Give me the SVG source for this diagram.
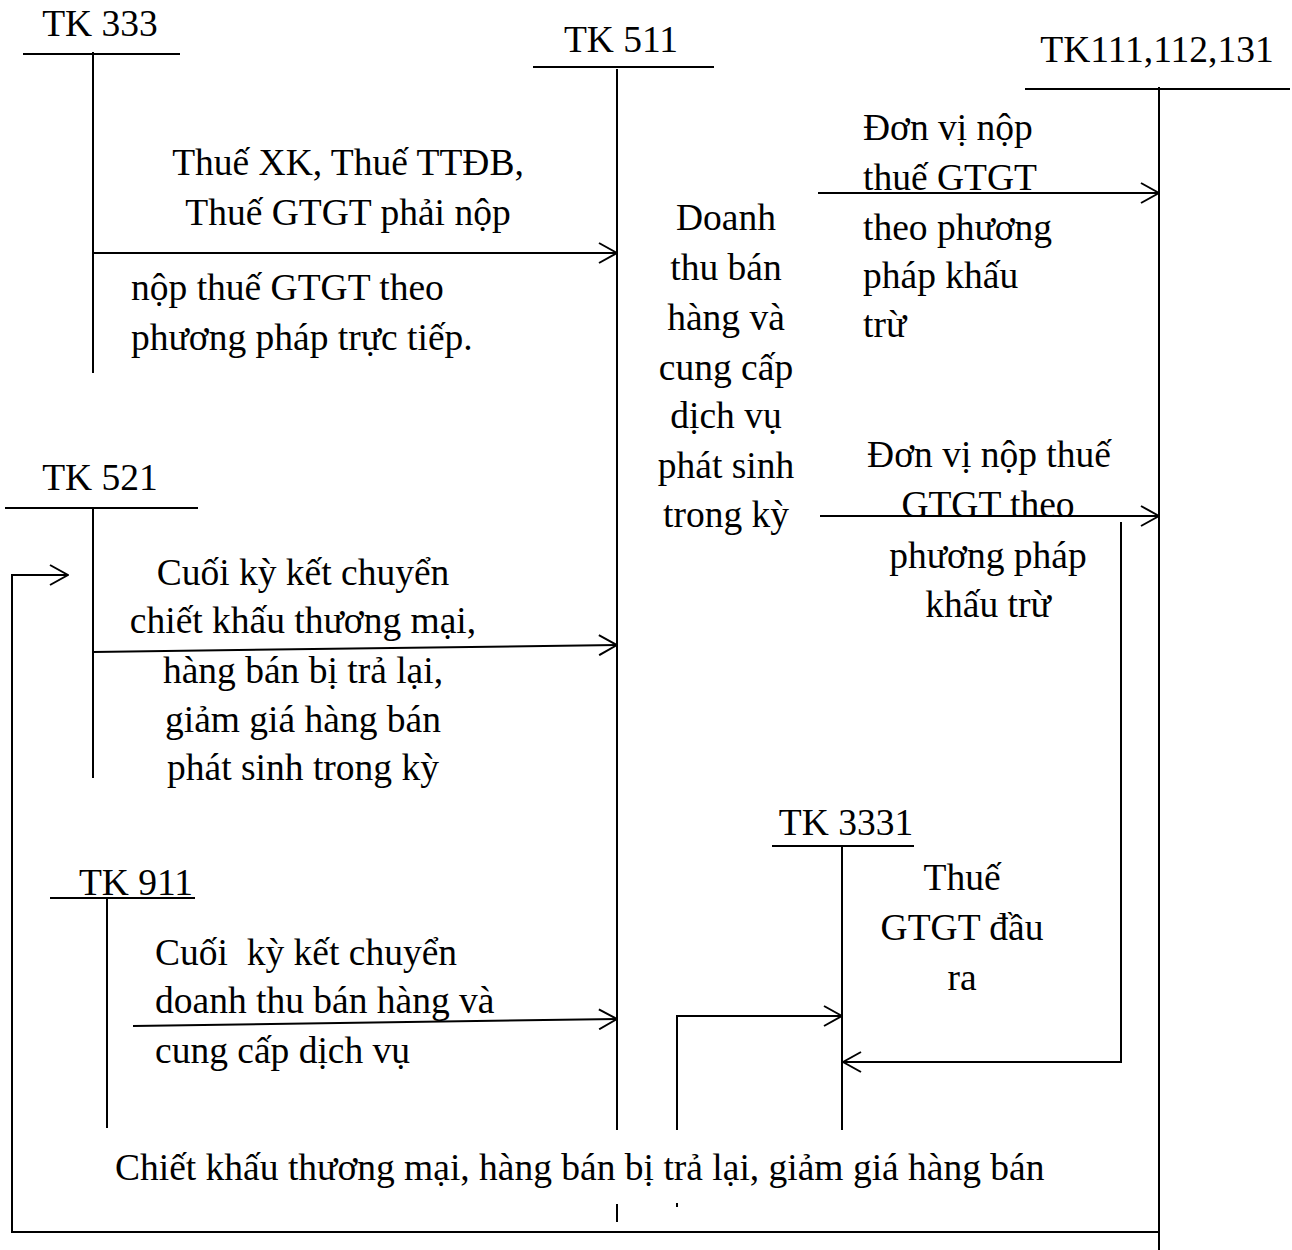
<svg xmlns="http://www.w3.org/2000/svg" width="1292" height="1250" viewBox="0 0 1292 1250">
<defs>
<marker id="ah" viewBox="0 0 20 22" refX="19" refY="11" markerWidth="20" markerHeight="22" markerUnits="userSpaceOnUse" orient="auto">
<path d="M1,1 L19,11 L1,21" fill="none" stroke="#000" stroke-width="2"/>
</marker>
</defs>
<style>
text{font-family:"Liberation Serif","Times New Roman",serif;font-size:37.5px;fill:#000}
.c{text-anchor:middle}
line,polyline{stroke:#000;stroke-width:2;fill:none}
</style>
<rect width="1292" height="1250" fill="#fff"/>
<g id="tk333">
<text class="c" x="100" y="36">TK 333</text>
<line x1="23" y1="54" x2="180" y2="54"/>
<line x1="93" y1="52" x2="93" y2="373"/>
</g>
<g id="tk511">
<text class="c" x="621" y="52">TK 511</text>
<line x1="533" y1="67" x2="714" y2="67"/>
<line x1="617" y1="69" x2="617" y2="1130"/>
<line x1="617" y1="1204" x2="617" y2="1222"/>
</g>
<g id="tk111">
<text class="c" x="1157" y="62">TK111,112,131</text>
<line x1="1025" y1="89" x2="1290" y2="89"/>
<line x1="1159" y1="87" x2="1159" y2="1250"/>
</g>
<g id="tk521">
<text class="c" x="100" y="490">TK 521</text>
<line x1="5" y1="508" x2="198" y2="508"/>
<line x1="93" y1="508" x2="93" y2="778"/>
</g>
<g id="tk911">
<text class="c" x="136" y="895">TK 911</text>
<line x1="50" y1="898" x2="195" y2="898"/>
<line x1="107" y1="898" x2="107" y2="1128"/>
</g>
<g id="tk3331">
<text class="c" x="846" y="835">TK 3331</text>
<line x1="772" y1="846" x2="914" y2="846"/>
<line x1="842" y1="846" x2="842" y2="1130"/>
</g>
<g id="labels">
<text class="c" x="348" y="175">Thuế XK, Thuế TTĐB,</text>
<text class="c" x="348" y="225">Thuế GTGT phải nộp</text>
<text x="131" y="300">nộp thuế GTGT theo</text>
<text x="131" y="350">phương pháp trực tiếp.</text>
<text class="c" x="726" y="230">Doanh</text>
<text class="c" x="726" y="280">thu bán</text>
<text class="c" x="726" y="330">hàng và</text>
<text class="c" x="726" y="380">cung cấp</text>
<text class="c" x="726" y="428">dịch vụ</text>
<text class="c" x="726" y="478">phát sinh</text>
<text class="c" x="726" y="527">trong kỳ</text>
<text x="863" y="140">Đơn vị nộp</text>
<text x="863" y="190">thuế GTGT</text>
<text x="863" y="240">theo phương</text>
<text x="863" y="288">pháp khấu</text>
<text x="863" y="337">trừ</text>
<text class="c" x="989" y="467">Đơn vị nộp thuế</text>
<text class="c" x="988" y="517">GTGT theo</text>
<text class="c" x="988" y="568">phương pháp</text>
<text class="c" x="988" y="617">khấu trừ</text>
<text class="c" x="303" y="585">Cuối kỳ kết chuyển</text>
<text class="c" x="303" y="633">chiết khấu thương mại,</text>
<text class="c" x="303" y="683">hàng bán bị trả lại,</text>
<text class="c" x="303" y="732">giảm giá hàng bán</text>
<text class="c" x="303" y="780">phát sinh trong kỳ</text>
<text x="155" y="965" xml:space="preserve">Cuối  kỳ kết chuyển</text>
<text x="155" y="1013">doanh thu bán hàng và</text>
<text x="155" y="1063">cung cấp dịch vụ</text>
<text class="c" x="962" y="890">Thuế</text>
<text class="c" x="962" y="940">GTGT đầu</text>
<text class="c" x="962" y="990">ra</text>
<text x="115" y="1180">Chiết khấu thương mại, hàng bán bị trả lại, giảm giá hàng bán</text>
</g>
<g id="connectors">
<line x1="93" y1="253" x2="617" y2="253" marker-end="url(#ah)"/>
<line x1="93" y1="652" x2="617" y2="645" marker-end="url(#ah)"/>
<line x1="133" y1="1026" x2="617" y2="1019" marker-end="url(#ah)"/>
<line x1="818" y1="193" x2="1159" y2="193" marker-end="url(#ah)"/>
<line x1="820" y1="516" x2="1159" y2="516" marker-end="url(#ah)"/>
<polyline points="1121,522 1121,1062 843,1062" marker-end="url(#ah)"/>
<polyline points="677,1130 677,1016 842,1016" marker-end="url(#ah)"/>
<polyline points="1159,1232 12,1232 12,575 68,575" marker-end="url(#ah)"/>
<line x1="677" y1="1203" x2="677" y2="1207"/>
</g>
</svg>
